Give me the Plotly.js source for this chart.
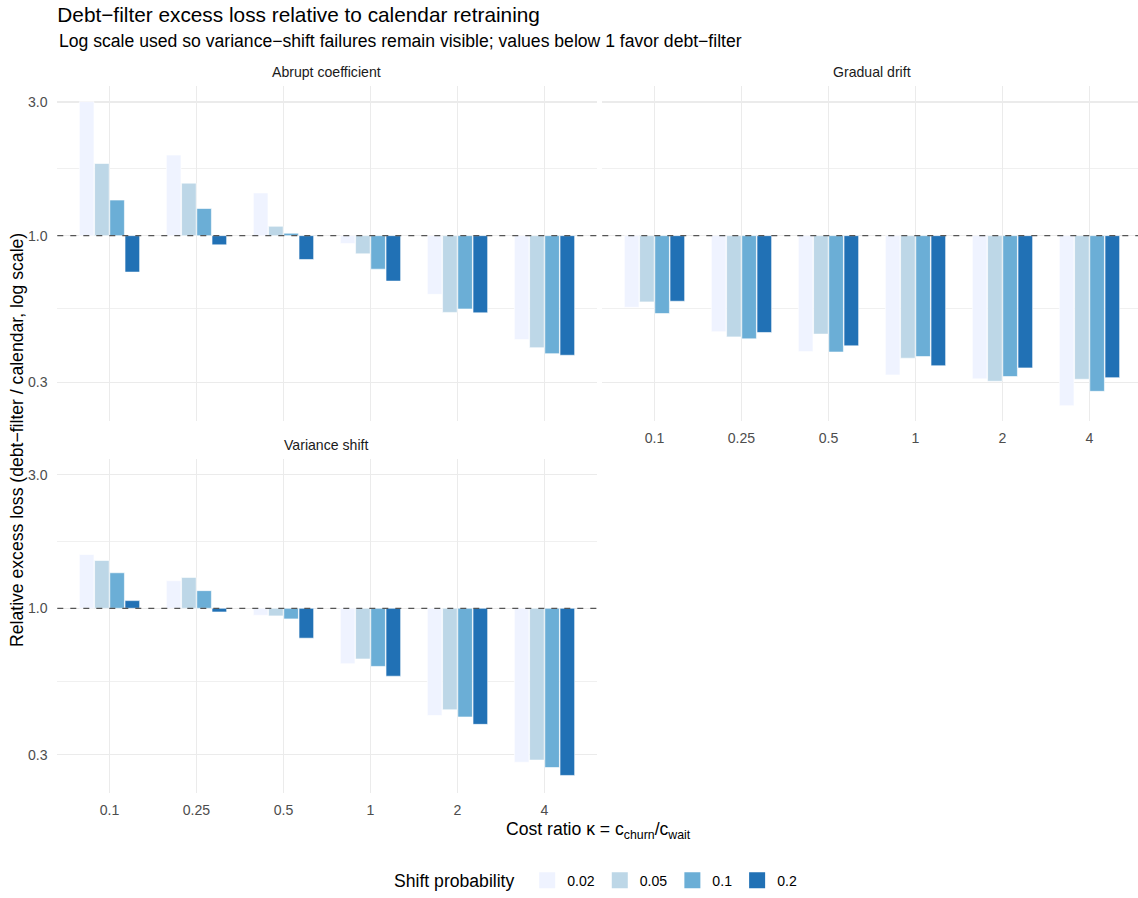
<!DOCTYPE html>
<html><head><meta charset="utf-8">
<script src="https://cdn.plot.ly/plotly-3.0.1.min.js"></script>
<style>html,body{margin:0;padding:0;background:#fff}#chart{width:1138px;height:898px}</style>
</head><body><div id="chart"></div>
<script>
// ---- data ----
const costRatios = ["0.1", "0.25", "0.5", "1", "2", "4"];
const shiftProbs = ["0.02", "0.05", "0.1", "0.2"];
const panelNames = ["Abrupt coefficient", "Gradual drift", "Variance shift"];

const abrupt_p002 = [3.01, 1.94, 1.42, 0.937, 0.617, 0.426];
const abrupt_p005 = [1.81, 1.54, 1.08, 0.861, 0.532, 0.398];
const abrupt_p01  = [1.34, 1.25, 1.02, 0.759, 0.547, 0.379];
const abrupt_p02  = [0.741, 0.927, 0.822, 0.688, 0.530, 0.374];

const gradual_p002 = [0.555, 0.454, 0.386, 0.318, 0.308, 0.247];
const gradual_p005 = [0.580, 0.435, 0.445, 0.365, 0.302, 0.307];
const gradual_p01  = [0.527, 0.428, 0.384, 0.370, 0.314, 0.278];
const gradual_p02  = [0.583, 0.451, 0.404, 0.343, 0.337, 0.311];

const variance_p002 = [1.556, 1.254, 0.944, 0.634, 0.414, 0.282];
const variance_p005 = [1.481, 1.289, 0.939, 0.659, 0.434, 0.287];
const variance_p01  = [1.339, 1.156, 0.916, 0.620, 0.409, 0.270];
const variance_p02  = [1.065, 0.970, 0.782, 0.572, 0.385, 0.253];

const yTickVals = [0.3, 1, 3];
const yTickText = ["0.3", "1.0", "3.0"];
const yMinorVals = [0.5477, 1.732];
const colors = ["#EFF3FF", "#BDD7E7", "#6BAED6", "#2171B5"];

const panelData = [
  [abrupt_p002, abrupt_p005, abrupt_p01, abrupt_p02],
  [gradual_p002, gradual_p005, gradual_p01, gradual_p02],
  [variance_p002, variance_p005, variance_p01, variance_p02]
];
const axisSuffix = ["", "2", "3"];

// ---- traces ----
const traces = [];
panelData.forEach((series, p) => {
  series.forEach((vals, k) => {
    traces.push({
      type: "bar",
      x: costRatios,
      y: vals.map(v => v - 1),
      base: vals.map(() => 1),
      customdata: vals,
      hovertemplate: "%{customdata}<extra></extra>",
      xaxis: "x" + axisSuffix[p],
      yaxis: "y" + axisSuffix[p],
      name: shiftProbs[k],
      legendgroup: shiftProbs[k],
      showlegend: false,
      marker: { color: colors[k], line: { color: "#FFFFFF", width: 0.6 } }
    });
  });
});
// legend keys (no data points, legend only)
shiftProbs.forEach((sp, k) => {
  traces.push({
    type: "scatter", mode: "markers", x: [null], y: [null],
    xaxis: "x", yaxis: "y", name: sp, legendgroup: sp, showlegend: true,
    hoverinfo: "skip",
    marker: { symbol: "square", size: 16, color: colors[k], line: { width: 0 } }
  });
});

// ---- layout ----
const W = 1138, H = 898;
const font = "Liberation Sans, Arial, Helvetica, sans-serif";
const tickFont = { family: font, size: 14.1, color: "#4D4D4D" };
const yRange = [-0.6609, 0.5329];
const leftDom = [57.3 / W, 596.7 / W];
const rightDom = [602.3 / W, 1];
const topDom = [1 - 422.6 / H, 1 - 86.8 / H];
const botDom = [1 - 796.9 / H, 1 - 461.1 / H];

function xa(dom, anchor, labels, range) {
  return {
    domain: dom, anchor: anchor, type: "category", range: range,
    showticklabels: labels, tickfont: tickFont,
    ticks: "outside", ticklen: 4, tickcolor: "rgba(0,0,0,0)",
    showgrid: true, gridcolor: "#EBEBEB", gridwidth: 1,
    zeroline: false, showline: false, fixedrange: true
  };
}
function ya(dom, anchor, labels) {
  return {
    domain: dom, anchor: anchor, type: "log", range: yRange,
    tickmode: "array", tickvals: yTickVals, ticktext: yTickText,
    showticklabels: labels, tickfont: tickFont,
    ticks: "outside", ticklen: 6, tickcolor: "rgba(0,0,0,0)",
    showgrid: true, gridcolor: "#EBEBEB", gridwidth: 1.1,
    minor: { tickmode: "array", tickvals: yMinorVals, showgrid: true, gridcolor: "#EEEEEE", gridwidth: 0.9, ticks: "" },
    zeroline: false, showline: false, fixedrange: true
  };
}

const dashLine = (yref, xref) => ({
  type: "line", xref: xref + " domain", x0: 0, x1: 1, yref: yref, y0: 1, y1: 1,
  line: { color: "#555555", width: 1.3, dash: "6px,7px" }, layer: "above"
});

const ann = (text, x, y, opts) => Object.assign({
  text: text, xref: "paper", yref: "paper", x: x, y: y, showarrow: false,
  xanchor: "center", yanchor: "middle", font: { family: font, size: 14.1, color: "#1A1A1A" }
}, opts || {});

const layout = {
  width: W, height: H,
  margin: { l: 0, r: 0, t: 0, b: 0 },
  paper_bgcolor: "#FFFFFF", plot_bgcolor: "rgba(0,0,0,0)",
  font: { family: font, color: "#000000" },
  barmode: "group", bargap: 0.3, bargroupgap: 0.04,
  title: {
    text: "Debt\u2212filter excess loss relative to calendar retraining",
    xref: "container", yref: "container", x: 57.3 / W, xanchor: "left",
    y: 1 - 15 / H, yanchor: "middle",
    font: { family: font, size: 20.8, color: "#000000" }
  },
  xaxis: xa(leftDom, "y", false, [-0.6, 5.6]),
  xaxis2: xa(rightDom, "y2", true, [-0.6, 5.5575]),
  xaxis3: xa(leftDom, "y3", true, [-0.6, 5.6]),
  yaxis: ya(topDom, "x", true),
  yaxis2: ya(topDom, "x2", false),
  yaxis3: ya(botDom, "x3", true),
  shapes: [dashLine("y", "x"), dashLine("y2", "x2"), dashLine("y3", "x3")],
  annotations: [
    ann("Log scale used so variance\u2212shift failures remain visible; values below 1 favor debt\u2212filter",
        57.3 / W, 1 - 41 / H, { xanchor: "left", font: { family: font, size: 17.6, color: "#000000" } }),
    ann(panelNames[0], 326 / W, 1 - 72.4 / H),
    ann(panelNames[1], 872 / W, 1 - 72.4 / H),
    ann(panelNames[2], 326 / W, 1 - 446.5 / H),
    ann("Cost ratio \u03BA = c<sub>churn</sub>/c<sub>wait</sub>", 598 / W, 1 - 834 / H,
        { font: { family: font, size: 17.6, color: "#000000" } }),
    ann("Relative excess loss (debt\u2212filter / calendar, log scale)", 17 / W, 1 - 441.9 / H,
        { textangle: -90, font: { family: font, size: 17.6, color: "#000000" } })
  ],
  legend: {
    orientation: "h", x: 597 / W, xanchor: "center", y: 1 - 885 / H, yanchor: "middle",
    traceorder: "normal", itemsizing: "trace",
    title: { text: "Shift probability ", side: "left", font: { family: font, size: 17.6, color: "#000000" } },
    font: { family: font, size: 14.1, color: "#000000" },
    itemwidth: 30, bgcolor: "rgba(0,0,0,0)"
  },
  hovermode: "closest"
};

Plotly.newPlot("chart", traces, layout, { displayModeBar: false, staticPlot: true });
</script>
</body></html>
